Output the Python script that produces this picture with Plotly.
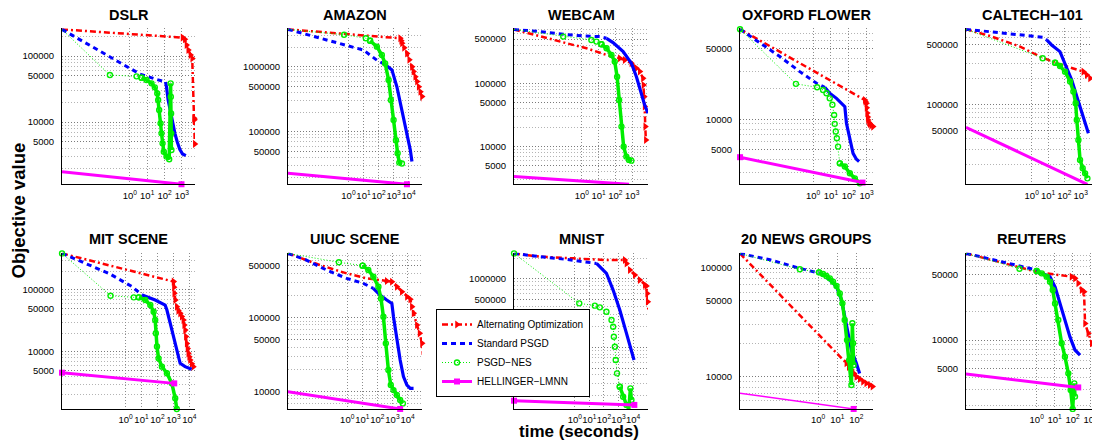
import plotly.graph_objects as go

# ------------------------------------------------------------------ data
# time (seconds) and objective values, per dataset
DSLR_ALT_T = [1.2e-4, 1100, 1480, 1860, 2340, 3160, 3980, 5130, 5300, 5600]
DSLR_ALT_V = [253000, 190000, 179000, 147000, 123000, 103500, 92000, 11400, 10800, 4660]
DSLR_PSGD_T = [1.2e-4, 0.07, 3.8, 34.5, 114, 130, 162, 224, 288, 398, 537, 759, 1100, 1700]
DSLR_PSGD_V = [253000, 95500, 53300, 44300, 40400, 34300, 21500, 13500, 9550, 6730, 5040, 3850, 3270, 3090]
DSLR_NES_T = [1.2e-4, 0.07, 2.43, 4.7, 9.1, 17.8, 27.5, 38, 43, 49, 59, 67, 77, 91, 130, 186, 225, 232, 240, 245, 250]
DSLR_NES_V = [253000, 51500, 49200, 47000, 43300, 38500, 33500, 27200, 21500, 15200, 9550, 6730, 4750, 3550, 2990, 2720, 38500, 24200, 13500, 6730, 3770]
DSLR_HEL_T = [1.2e-4, 955]
DSLR_HEL_V = [1770, 1140]

AMAZON_ALT_T = [9.5e-5, 2760, 3200, 3630, 5000, 7760, 11000, 16600, 21000, 27500, 36000, 46800, 60000, 77600, 91000]
AMAZON_ALT_V = [3.75e6, 2.73e6, 2.5e6, 2.29e6, 1.95e6, 1.6e6, 1.28e6, 1.0e6, 8.4e5, 7.0e5, 5.9e5, 4.9e5, 4.1e5, 3.47e5, 2.9e5]
AMAZON_PSGD_T = [9.5e-5, 0.1, 10, 77.6, 300, 603, 776, 1660, 3630, 7760, 12900, 16600]
AMAZON_PSGD_V = [3.75e6, 2.43e6, 1.8e6, 1.26e6, 1.06e6, 9.42e5, 8.91e5, 4.9e5, 2.14e5, 9.33e4, 5.25e4, 3.47e4]
AMAZON_NES_T = [9.5e-5, 0.51, 14.4, 27.5, 77.6, 166, 275, 468, 661, 1000, 1440, 1860, 2400, 3600]
AMAZON_NES_V = [3.75e6, 3.1e6, 2.73e6, 2.5e6, 2.03e6, 1.51e6, 1.12e6, 6.24e5, 3.07e5, 1.51e5, 7.4e4, 4.65e4, 3.34e4, 3.24e4]
AMAZON_HEL_T = [9.5e-5, 7760]
AMAZON_HEL_V = [22900, 15500]

WEBCAM_ALT_T = [9.1e-5, 0.0032, 0.123, 1.9, 29.5, 182, 355, 890, 1780, 2820, 4370, 4700, 5100, 5500, 6000, 6500]
WEBCAM_ALT_V = [708000, 546000, 429000, 357000, 280000, 248000, 233000, 207000, 173000, 153000, 120000, 94200, 61700, 42900, 20700, 12700]
WEBCAM_PSGD_T = [9.1e-5, 0.0032, 0.078, 1.2, 11.7, 29.5, 72, 288, 890, 1780, 3470, 5500, 8700]
WEBCAM_PSGD_V = [708000, 655000, 594000, 558000, 546000, 513000, 439000, 316000, 207000, 127000, 69500, 45500, 33600]
WEBCAM_NES_T = [9.1e-5, 0.078, 3.7, 7.4, 14.7, 29.5, 58, 91, 126, 166, 229, 309, 447, 646, 890]
WEBCAM_NES_V = [708000, 546000, 483000, 455000, 413000, 357000, 280000, 220000, 127000, 54600, 20700, 10000, 6950, 6170, 6000]
WEBCAM_HEL_T = [9.1e-5, 646]
WEBCAM_HEL_V = [3360, 2540]

OXFORD_ALT_T = [7.8e-5, 794, 850, 977, 1000, 1070, 1150, 1200, 1350, 1510, 1800, 2290]
OXFORD_ALT_V = [77800, 15500, 15000, 14400, 13000, 11500, 10500, 9840, 9300, 9000, 8700, 8450]
OXFORD_PSGD_T = [7.8e-5, 1.0e-3, 0.0135, 0.178, 1.55, 4.47, 8.5, 20.4, 47.9, 60, 74, 115, 174, 269, 380]
OXFORD_PSGD_V = [77800, 57400, 41700, 29600, 22700, 20700, 18100, 16100, 13900, 13300, 9120, 6240, 4600, 4020, 3810]
OXFORD_NES_T = [7.8e-5, 0.107, 1.67, 3.6, 5.6, 8.5, 12, 15, 16.2, 18.6, 21.4, 25, 31.6, 60, 115, 219, 417]
OXFORD_NES_V = [77800, 22400, 20700, 19500, 18100, 16100, 13900, 11000, 9000, 7550, 6490, 5360, 3660, 3400, 2920, 2600, 2320]
OXFORD_HEL_T = [7.8e-5, 589]
OXFORD_HEL_V = [4210, 2360]

CALTECH_ALT_T = [9.5e-5, 0.0028, 0.195, 3.2, 34, 355, 1450, 2340, 3720, 7590, 9120, 10000, 11000, 13200, 15800, 25000]
CALTECH_ALT_V = [746000, 624000, 470000, 360000, 301000, 264000, 241000, 221000, 202000, 193000, 177000, 113000, 69500, 60800, 53200, 46600]
CALTECH_PSGD_T = [9.5e-5, 0.0028, 0.076, 0.79, 5.1, 8.3, 16.6, 53.7, 110, 282, 575, 1150, 2340, 2950]
CALTECH_PSGD_V = [746000, 702000, 653000, 624000, 603000, 561000, 491000, 411000, 301000, 193000, 124000, 79400, 50900, 46600]
CALTECH_NES_T = [9.5e-5, 4.7, 27, 54, 110, 224, 355, 490, 575, 724, 912, 1320, 1860, 2570]
CALTECH_NES_V = [746000, 344000, 306000, 280000, 241000, 185000, 142000, 104000, 66400, 39000, 22900, 18300, 16000, 14000]
CALTECH_HEL_T = [9.5e-5, 2570]
CALTECH_HEL_V = [54600, 11900]

MIT_ALT_T = [1.05e-4, 1020, 1070, 1120, 1300, 1620, 2000, 2630, 3300, 4170, 4700, 5370, 6000, 6760, 7600, 8510, 9700, 11000, 14000, 17400, 24000]
MIT_ALT_V = [385000, 135000, 110000, 87300, 68000, 53200, 46000, 41500, 37000, 32400, 27000, 22300, 17500, 13600, 11300, 9400, 8300, 7350, 6400, 5730, 5060]
MIT_PSGD_T = [1.05e-4, 0.0032, 0.091, 2.57, 11, 28, 72, 302, 389, 631, 1000, 1620, 2630, 5370, 13800]
MIT_PSGD_V = [385000, 266000, 183000, 112000, 82000, 75200, 68100, 56600, 47000, 28600, 17500, 10600, 6490, 5730, 5190]
MIT_NES_T = [1.05e-4, 0.115, 3.3, 6.8, 17.4, 35.5, 57.5, 72, 79, 93, 117, 190, 389, 794, 1290, 1620]
MIT_NES_V = [385000, 80000, 75200, 75200, 68100, 56600, 44200, 32400, 19800, 12100, 7800, 5730, 4480, 3080, 1770, 1190]
MIT_HEL_T = [1.05e-4, 1120]
MIT_HEL_V = [4580, 3080]

UIUC_ALT_T = [1.17e-4, 0.015, 0.91, 19.5, 417, 912, 1950, 4170, 9120, 15100, 19500, 25100, 41700, 63100, 91200, 105000]
UIUC_ALT_V = [740000, 515000, 397000, 340000, 313000, 306000, 262000, 224000, 192000, 177000, 141000, 115000, 79600, 61400, 45000, 31300]
UIUC_PSGD_T = [1.17e-4, 0.00195, 0.042, 0.91, 11.7, 53.7, 151, 417, 912, 1170, 1950, 3240, 5370, 9120, 15100, 25100]
UIUC_PSGD_V = [740000, 601000, 441000, 340000, 291000, 249000, 202000, 173000, 156000, 103000, 49900, 26800, 16000, 12300, 11100, 11100]
UIUC_NES_T = [1.17e-4, 0.28, 10.5, 25, 54, 117, 174, 251, 363, 537, 776, 1170, 1950, 3240, 4900]
UIUC_NES_V = [740000, 560000, 505000, 441000, 358000, 262000, 182000, 103000, 45000, 19600, 12300, 10500, 9020, 7710, 6950]
UIUC_HEL_T = [1.17e-4, 3240]
UIUC_HEL_V = [10000, 5840]

MNIST_ALT_T = [6.5e-5, 0.004, 0.78, 148, 2690, 3550, 6030, 13200, 28800, 64600, 83200, 93300, 102000, 112000]
MNIST_ALT_V = [2.34e6, 2.09e6, 1.98e6, 1.87e6, 1.87e6, 1.67e6, 1.34e6, 1.13e6, 9.57e5, 8.09e5, 7.82e5, 6.11e5, 4.62e5, 3.57e5]
MNIST_PSGD_T = [6.5e-5, 0.004, 0.27, 18.2, 30.9, 148, 427, 1230, 3550, 7760, 11700]
MNIST_PSGD_V = [2.34e6, 2.09e6, 1.91e6, 1.71e6, 1.67e6, 1.2e6, 6.84e5, 3.5e5, 1.6e5, 9.14e4, 6.55e4]
MNIST_NES_T = [6.5e-5, 2.0, 23.6, 52, 148, 331, 427, 479, 562, 646, 794, 1230, 2090, 3550, 5130, 6610, 7760]
MNIST_NES_V = [2.34e6, 4.38e5, 4.05e5, 3.83e5, 3.31e5, 2.5e5, 2.0e5, 1.43e5, 1.02e5, 6.55e4, 4.18e4, 2.67e4, 1.91e4, 1.45e4, 1.26e4, 2.53e4, 1.71e4]
MNIST_HEL_T = [6.5e-5, 12300]
MNIST_HEL_V = [16700, 14500]

NEWS_ALT_T = [8.1e-5, 30, 40, 55, 75, 100, 150, 224, 330, 500, 700, 912]
NEWS_ALT_V = [136000, 13300, 12300, 11500, 10700, 10000, 9500, 9000, 8700, 8380, 8100, 7820]
NEWS_PSGD_T = [8.1e-5, 0.003, 0.11, 1.23, 4.07, 9.1, 16.6, 24.5, 37.2, 55, 100, 148]
NEWS_PSGD_V = [136000, 119000, 99300, 89300, 77600, 67300, 50800, 35600, 25100, 17600, 13300, 10700]
NEWS_NES_T = [8.1e-5, 0.11, 1.12, 1.8, 2.7, 4.07, 6.0, 9.1, 13.5, 18.6, 24.5, 32.4, 41.7, 55, 61.7, 67, 72]
NEWS_NES_V = [136000, 97300, 91200, 88100, 84400, 80300, 74800, 68200, 58400, 47300, 33200, 21700, 14200, 8380, 31000, 20300, 12800]
NEWS_HEL_T = [8.1e-5, 72]
NEWS_HEL_V = [7030, 5040]

REUTERS_ALT_T = [1.17e-4, 1.0, 8.5, 87, 135, 204, 316, 427, 490, 741, 1150, 1740, 2690, 4000]
REUTERS_ALT_V = [83600, 53300, 50000, 47200, 45300, 40100, 34000, 32700, 15000, 11800, 9230, 7210, 5650, 4500]
REUTERS_PSGD_T = [1.17e-4, 0.0091, 0.117, 1.0, 2.34, 5.5, 10.5, 20, 37.2, 70.8, 135, 257]
REUTERS_PSGD_V = [83600, 69200, 61800, 55600, 50400, 47200, 36900, 24500, 16300, 10800, 7830, 6920]
REUTERS_NES_T = [1.17e-4, 0.11, 1.0, 1.9, 3.6, 5.5, 7.8, 10.5, 15.9, 24.5, 37.2, 57.5, 77.6, 100, 123, 135]
REUTERS_NES_V = [83600, 57400, 54200, 51200, 47200, 41800, 34000, 24500, 16300, 9230, 6650, 4420, 2940, 1850, 3460, 2500]
REUTERS_HEL_T = [1.17e-4, 204]
REUTERS_HEL_V = [4350, 3130]

TITLES = ["DSLR", "AMAZON", "WEBCAM", "OXFORD FLOWER", "CALTECH\u2212101",
          "MIT SCENE", "UIUC SCENE", "MNIST", "20 NEWS GROUPS", "REUTERS"]
Y_TICKS = [
    [5000, 10000, 50000, 100000],
    [50000, 100000, 500000, 1000000],
    [5000, 10000, 50000, 100000, 500000],
    [5000, 10000, 50000],
    [50000, 100000, 500000],
    [5000, 10000, 50000, 100000],
    [10000, 50000, 100000, 500000],
    [50000, 100000, 500000, 1000000],
    [10000, 50000, 100000],
    [5000, 10000, 50000],
]
X_TICK_EXP = [
    [0, 1, 2, 3], [0, 1, 2, 3, 4], [0, 1, 2, 3], [0, 1, 2, 3], [0, 1, 2, 3, 4],
    [0, 1, 2, 3, 4], [0, 1, 2, 3, 4, 5], [0, 1, 2, 3, 4], [0, 1, 2], [0, 1, 2, 3],
]
SERIES_NAMES = ["Alternating Optimization", "Standard PSGD", "PSGD\u2212NES", "HELLINGER\u2212LMNN"]

# (alt, psgd, nes, hellinger) with index where the densely logged part begins
PANELS = [
    ((DSLR_ALT_T, DSLR_ALT_V, 1), (DSLR_PSGD_T, DSLR_PSGD_V, 4), (DSLR_NES_T, DSLR_NES_V, 3), (DSLR_HEL_T, DSLR_HEL_V)),
    ((AMAZON_ALT_T, AMAZON_ALT_V, 1), (AMAZON_PSGD_T, AMAZON_PSGD_V, 4), (AMAZON_NES_T, AMAZON_NES_V, 3), (AMAZON_HEL_T, AMAZON_HEL_V)),
    ((WEBCAM_ALT_T, WEBCAM_ALT_V, 5), (WEBCAM_PSGD_T, WEBCAM_PSGD_V, 5), (WEBCAM_NES_T, WEBCAM_NES_V, 4), (WEBCAM_HEL_T, WEBCAM_HEL_V)),
    ((OXFORD_ALT_T, OXFORD_ALT_V, 1), (OXFORD_PSGD_T, OXFORD_PSGD_V, 5), (OXFORD_NES_T, OXFORD_NES_V, 12), (OXFORD_HEL_T, OXFORD_HEL_V)),
    ((CALTECH_ALT_T, CALTECH_ALT_V, 6), (CALTECH_PSGD_T, CALTECH_PSGD_V, 5), (CALTECH_NES_T, CALTECH_NES_V, 2), (CALTECH_HEL_T, CALTECH_HEL_V)),
    ((MIT_ALT_T, MIT_ALT_V, 1), (MIT_PSGD_T, MIT_PSGD_V, 4), (MIT_NES_T, MIT_NES_V, 3), (MIT_HEL_T, MIT_HEL_V)),
    ((UIUC_ALT_T, UIUC_ALT_V, 4), (UIUC_PSGD_T, UIUC_PSGD_V, 5), (UIUC_NES_T, UIUC_NES_V, 2), (UIUC_HEL_T, UIUC_HEL_V)),
    ((MNIST_ALT_T, MNIST_ALT_V, 4), (MNIST_PSGD_T, MNIST_PSGD_V, 4), (MNIST_NES_T, MNIST_NES_V, 11), (MNIST_HEL_T, MNIST_HEL_V)),
    ((NEWS_ALT_T, NEWS_ALT_V, 1), (NEWS_PSGD_T, NEWS_PSGD_V, 4), (NEWS_NES_T, NEWS_NES_V, 2), (NEWS_HEL_T, NEWS_HEL_V)),
    ((REUTERS_ALT_T, REUTERS_ALT_V, 3), (REUTERS_PSGD_T, REUTERS_PSGD_V, 4), (REUTERS_NES_T, REUTERS_NES_V, 2), (REUTERS_HEL_T, REUTERS_HEL_V)),
]

# ------------------------------------------------------------------ layout constants
OFF = 8                      # page body margin that shifts the figure
W, H = 1100 - OFF, 440 - OFF  # figure size so that it fills the window
COL_PX = [(62, 195), (288, 422), (514, 648), (740, 873), (966, 1100)]   # window pixels
ROW_PX = [(28.3, 184.3), (252.7, 409)]
X_RANGES = [(-3.92, 3.76), (-4.02, 4.89), (-4.04, 3.94), (-4.11, 3.36), (-4.02, 4.18),
            (-3.98, 4.35), (-3.93, 4.96), (-4.19, 5.03), (-4.09, 2.87), (-3.93, 3.52)]
Y_RANGES = [(3.056, 5.42), (4.19, 6.59), (3.405, 5.868), (3.356, 4.9), (4.077, 5.884),
            (3.075, 5.597), (3.766, 5.878), (4.102, 6.379), (3.702, 5.141), (3.266, 4.929)]
HEL_WIDTH = [3, 3, 3, 3, 3, 3, 3, 3, 1.5, 3]


def px(x):
    return (x - OFF) / W


def py(y):
    return 1 - (y - OFF) / H


RED, BLUE, GREEN, MAGENTA = "#ff0000", "#0000ff", "#00ee00", "#ff00ff"
FONT = "Liberation Sans, Arial, Helvetica, sans-serif"
DOT = "1px,2px"

fig = go.Figure()
annotations = []

for i, (alt, psgd, nes, hel) in enumerate(PANELS):
    n = i + 1
    xa = "x" if n == 1 else f"x{n}"
    ya = "y" if n == 1 else f"y{n}"
    first = (i == 0)
    common = dict(xaxis=xa, yaxis=ya, cliponaxis=False, hoverinfo="skip")

    # Alternating optimization
    t, v, k = alt
    fig.add_trace(go.Scatter(x=t[:k + 1], y=v[:k + 1], mode="lines",
                             line=dict(color=RED, width=2.5, dash="6px,3px,2px,3px"),
                             showlegend=False, **common))
    fig.add_trace(go.Scatter(x=t[k:], y=v[k:], mode="lines+markers",
                             line=dict(color=RED, width=2.5, dash="6px,3px,2px,3px"),
                             marker=dict(symbol="triangle-right", size=7, color=RED),
                             name=SERIES_NAMES[0], showlegend=first, **common))
    # Standard PSGD
    t, v, k = psgd
    fig.add_trace(go.Scatter(x=t[:k + 1], y=v[:k + 1], mode="lines",
                             line=dict(color=BLUE, width=3, dash="5px,4px"),
                             name=SERIES_NAMES[1], showlegend=first, **common))
    fig.add_trace(go.Scatter(x=t[k:], y=v[k:], mode="lines",
                             line=dict(color=BLUE, width=3.2),
                             showlegend=False, **common))
    # PSGD-NES
    t, v, k = nes
    fig.add_trace(go.Scatter(x=t[:k + 1], y=v[:k + 1], mode="lines+markers",
                             line=dict(color=GREEN, width=1, dash=DOT),
                             marker=dict(symbol="circle-open", size=5, color=GREEN, line=dict(width=1.4)),
                             name=SERIES_NAMES[2], showlegend=first, **common))
    fig.add_trace(go.Scatter(x=t[k:], y=v[k:], mode="lines+markers",
                             line=dict(color=GREEN, width=3.5),
                             marker=dict(symbol="circle-open", size=5, color=GREEN, line=dict(width=1.4)),
                             showlegend=False, **common))
    # Hellinger-LMNN
    t, v = hel
    fig.add_trace(go.Scatter(x=t, y=v, mode="lines+markers",
                             line=dict(color=MAGENTA, width=HEL_WIDTH[i]),
                             marker=dict(symbol="square", size=6, color=MAGENTA),
                             name=SERIES_NAMES[3], showlegend=first, **common))

    row, col = divmod(i, 5)
    x0, x1 = COL_PX[col]
    y0, y1 = ROW_PX[row]
    exps = X_TICK_EXP[i]
    xkey = "xaxis" if n == 1 else f"xaxis{n}"
    ykey = "yaxis" if n == 1 else f"yaxis{n}"
    fig.layout[xkey] = dict(
        type="log", domain=[px(x0), min(px(x1), 1.0)], range=list(X_RANGES[i]), anchor=ya,
        tickmode="array", tickvals=[10 ** e for e in exps],
        ticktext=[f"10<sup>{e}</sup>" for e in exps], tickangle=0,
        showgrid=True, gridcolor="#8c8c8c", griddash=DOT, gridwidth=1,
        showline=True, linecolor="black", linewidth=1, ticks="", zeroline=False,
        ticklabelstandoff=2,
        tickfont=dict(family=FONT, size=9.5, color="black"), fixedrange=True,
    )
    fig.layout[ykey] = dict(
        type="log", domain=[py(y1), py(y0)], range=list(Y_RANGES[i]), anchor=xa,
        tickmode="array", tickvals=Y_TICKS[i], ticktext=[str(v) for v in Y_TICKS[i]],
        showgrid=True, gridcolor="#7a7a7a", griddash=DOT, gridwidth=1,
        minor=dict(dtick="D1", showgrid=True, gridcolor="#b4b4b4", griddash=DOT, gridwidth=1, ticks=""),
        showline=True, linecolor="black", linewidth=1, ticks="", zeroline=False,
        ticklabelstandoff=5,
        tickfont=dict(family=FONT, size=9.5, color="black"), fixedrange=True,
    )
    title_y = 15 if row == 0 else 239
    title_x = (x0 + x1) / 2 if col < 4 else 1032
    annotations.append(dict(text=f"<b>{TITLES[i]}</b>", x=px(title_x), y=py(title_y),
                            xref="paper", yref="paper", showarrow=False,
                            xanchor="center", yanchor="middle",
                            font=dict(family=FONT, size=14.5, color="black")))

annotations.append(dict(text="<b>Objective value</b>", x=px(17.5), y=py(211), xref="paper", yref="paper",
                        showarrow=False, textangle=-90, xanchor="center", yanchor="middle",
                        font=dict(family=FONT, size=18.5, color="black")))
annotations.append(dict(text="<b>time (seconds)</b>", x=px(579), y=py(431), xref="paper", yref="paper",
                        showarrow=False, xanchor="center", yanchor="middle",
                        font=dict(family=FONT, size=17, color="black")))

fig.update_layout(
    width=W, height=H, margin=dict(l=0, r=0, t=0, b=0, autoexpand=False),
    paper_bgcolor="white", plot_bgcolor="white",
    annotations=annotations,
    legend=dict(x=px(436), y=py(309), xanchor="left", yanchor="top",
                bordercolor="black", borderwidth=1, bgcolor="white",
                font=dict(family=FONT, size=10, color="black"),
                tracegroupgap=0, itemwidth=30, traceorder="normal"),
    font=dict(family=FONT),
)

fig.write_html("out.html")
